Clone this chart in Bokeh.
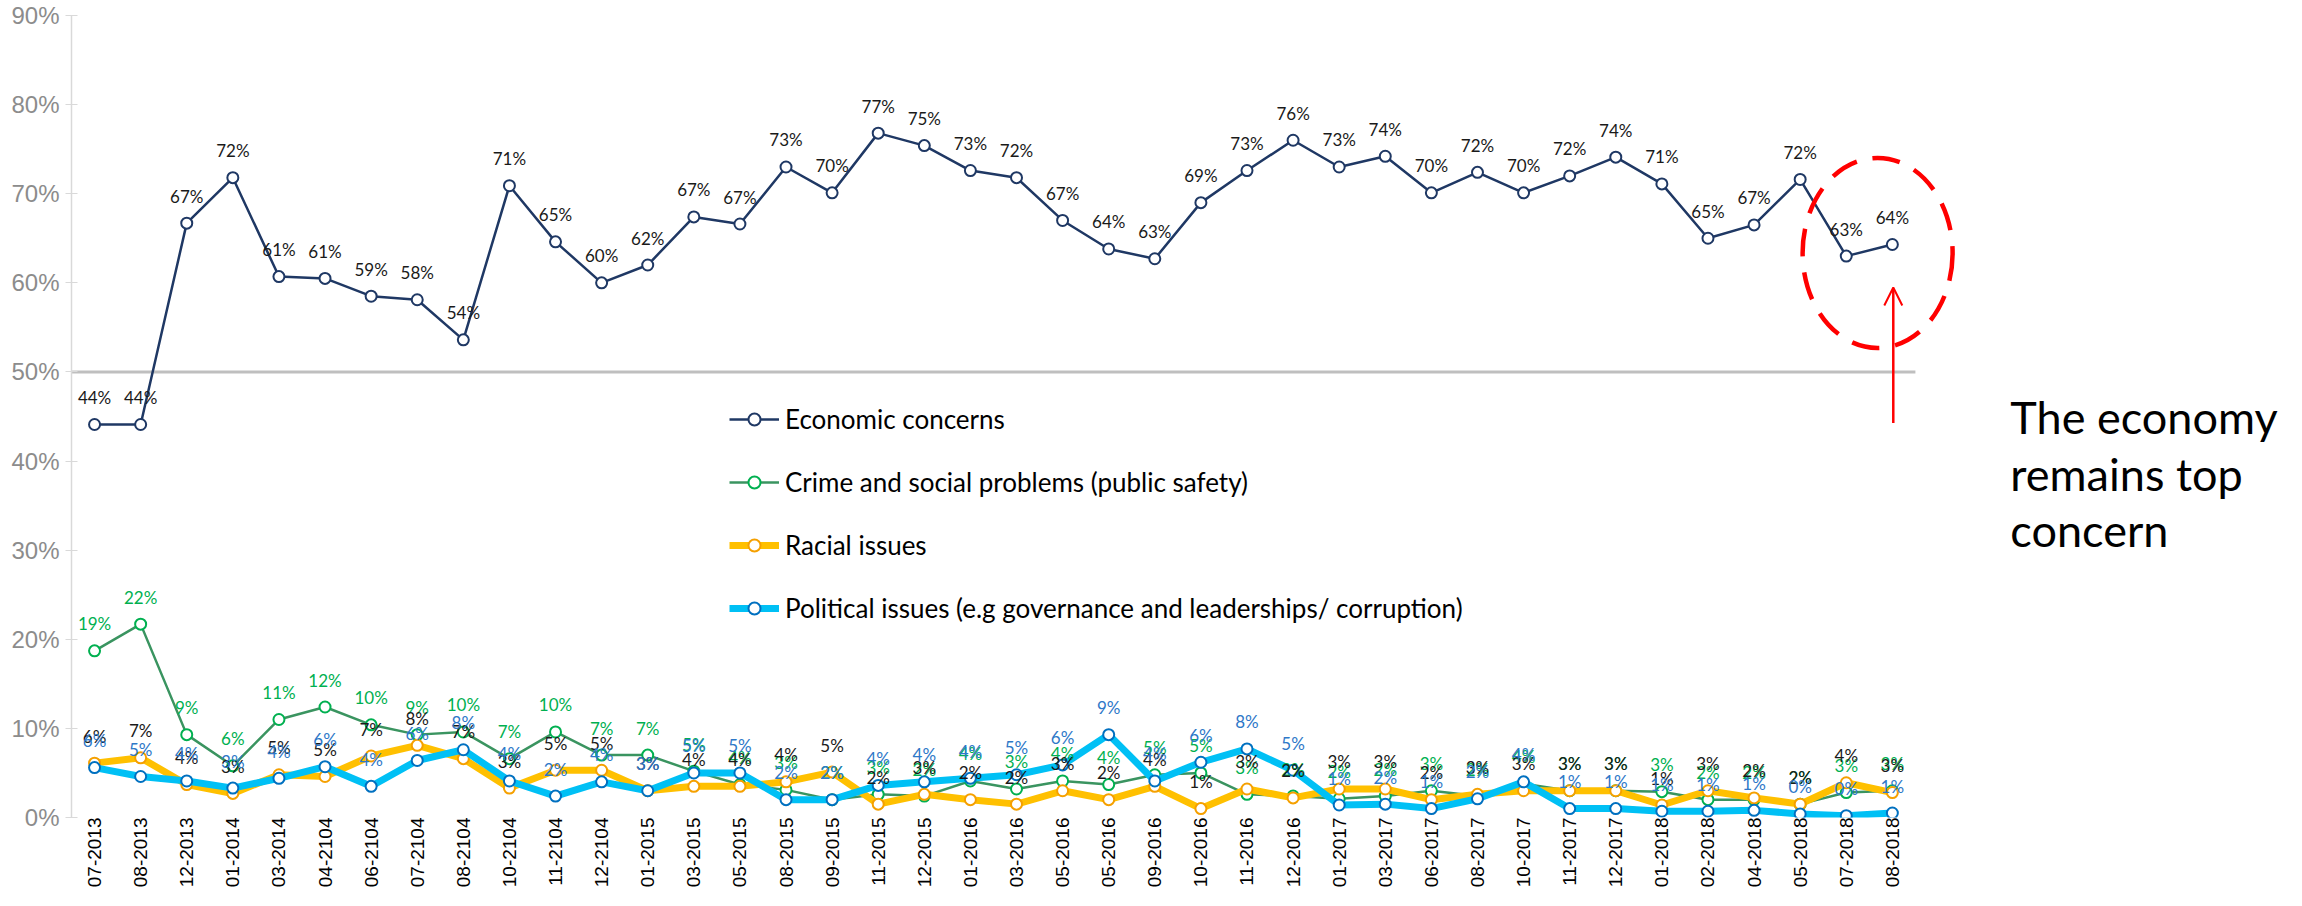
import math
from bokeh.plotting import figure
from bokeh.models import (ColumnDataSource, Range1d, Legend, LegendItem, Arrow,
                          OpenHead, FixedTicker, PrintfTickFormatter)
from bokeh.core.properties import value
from bokeh.embed import file_html
from bokeh.resources import INLINE

months = ["07-2013", "08-2013", "12-2013", "01-2014", "03-2014", "04-2104", "06-2104",
          "07-2104", "08-2104", "10-2104", "11-2104", "12-2104", "01-2015", "03-2015",
          "05-2015", "08-2015", "09-2015", "11-2015", "12-2015", "01-2016", "03-2016",
          "05-2016", "05-2016", "09-2016", "10-2016", "11-2016", "12-2016", "01-2017",
          "03-2017", "06-2017", "08-2017", "10-2017", "11-2017", "12-2017", "01-2018",
          "02-2018", "04-2018", "05-2018", "07-2018", "08-2018"]

economic = [44.1, 44.1, 66.7, 71.8, 60.7, 60.5, 58.5, 58.1, 53.6, 70.9, 64.6, 60.0,
            62.0, 67.4, 66.6, 73.0, 70.1, 76.8, 75.4, 72.6, 71.8, 67.0, 63.8, 62.7,
            69.0, 72.6, 76.0, 73.0, 74.2, 70.1, 72.4, 70.1, 72.0, 74.1, 71.1, 65.0,
            66.5, 71.6, 63.0, 64.3]

crime = [18.7, 21.7, 9.3, 5.8, 11.0, 12.4, 10.4, 9.3, 9.6, 6.6, 9.6, 7.0, 7.0, 5.2,
         3.7, 3.1, 2.0, 2.6, 2.4, 4.1, 3.2, 4.1, 3.7, 4.8, 5.0, 2.6, 2.4, 2.1, 2.4,
         3.0, 2.4, 3.8, 3.0, 3.0, 2.9, 2.0, 2.0, 1.5, 2.8, 3.0]

racial = [6.1, 6.7, 3.7, 2.7, 4.8, 4.6, 6.9, 8.1, 6.6, 3.3, 5.3, 5.3, 3.0, 3.5, 3.5,
          4.0, 5.1, 1.5, 2.6, 2.0, 1.5, 3.0, 2.0, 3.5, 1.0, 3.2, 2.2, 3.2, 3.2, 2.0,
          2.6, 3.0, 3.0, 3.0, 1.4, 3.0, 2.2, 1.5, 3.9, 2.8]

political = [5.6, 4.6, 4.1, 3.3, 4.4, 5.7, 3.5, 6.4, 7.6, 4.1, 2.4, 4.0, 3.0, 5.0, 5.0,
             2.0, 2.0, 3.6, 4.0, 4.4, 4.8, 5.9, 9.3, 4.1, 6.2, 7.7, 5.3, 1.4, 1.5, 1.0,
             2.1, 4.0, 1.0, 1.0, 0.7, 0.7, 0.8, 0.4, 0.2, 0.5]

y_ticks = [0, 10, 20, 30, 40, 50, 60, 70, 80, 90]
note_lines = ["The economy", "remains top", "concern"]

x = list(range(len(months)))


def lab(v):
    return f"{int(v + 0.5)}%"


p = figure(width=2286, height=890, x_range=Range1d(-0.5, 47.55), y_range=Range1d(0, 90),
           output_backend="svg", toolbar_location=None,
           min_border_left=71, min_border_right=0, min_border_top=15, min_border_bottom=70)
p.outline_line_color = None
p.xgrid.visible = False
p.ygrid.visible = False

# axes
p.yaxis.ticker = FixedTicker(ticks=y_ticks)
p.yaxis.formatter = PrintfTickFormatter(format="%d%%")
p.yaxis.axis_line_color = "#D9D9D9"
p.yaxis.axis_line_width = 1.5
p.yaxis.major_tick_line_color = "#D9D9D9"
p.yaxis.major_tick_in = 6
p.yaxis.major_tick_out = 6
p.yaxis.minor_tick_line_color = None
p.yaxis.major_label_text_font = "Liberation Sans"
p.yaxis.major_label_text_font_size = "24px"
p.yaxis.major_label_text_color = "#8C8C8C"
p.yaxis.major_label_standoff = 6

p.xaxis.ticker = FixedTicker(ticks=x)
p.xaxis.major_label_overrides = {i: m for i, m in enumerate(months)}
p.xaxis.major_label_orientation = math.pi / 2
p.xaxis.axis_line_color = None
p.xaxis.major_tick_line_color = None
p.xaxis.minor_tick_line_color = None
p.xaxis.major_tick_in = 0
p.xaxis.major_tick_out = 0
p.xaxis.major_label_standoff = 0
p.xaxis.major_label_text_font = "Liberation Sans"
p.xaxis.major_label_text_font_size = "19px"
p.xaxis.major_label_text_color = "black"

# 50% reference line
p.segment(x0=-0.5, y0=50, x1=39.5, y1=50, line_color="#BFBFBF", line_width=3)

series = [
    ("Economic concerns", economic, "#1F3864", 2.5, "#1F3864", "#1A1A1A"),
    ("Crime and social problems (public safety)", crime, "#3A9460", 2.5, "#00B050", "#00B050"),
    ("Racial issues", racial, "#FFC000", 7, "#F5A000", "#1A1A1A"),
    ("Political issues (e.g governance and leaderships/ corruption)", political, "#00C0F5", 7, "#0070C0", "#2E78C8"),
]

items = []
label_sources = []
for name, vals, lc, lw, mc, tc in series:
    src = ColumnDataSource(dict(x=x, y=vals, t=[lab(v) for v in vals]))
    lr = p.line("x", "y", source=src, line_color=lc, line_width=lw)
    sr = p.scatter("x", "y", source=src, marker="circle", size=11, fill_color="white",
                   line_color=mc, line_width=2)
    items.append(LegendItem(label=name, renderers=[lr, sr]))
    label_sources.append((src, tc))

for src, tc in label_sources:
    p.text("x", "y", text="t", source=src, y_offset=-27, text_align="center",
           text_baseline="middle", text_font=value("Lato"), text_font_size="17px",
           text_color=tc)

# red dashed ellipse + arrow
p.ellipse(x=38.68, y=63.35, width=150, height=190, width_units="screen",
          height_units="screen", fill_color=None, line_color="#FF0000", line_width=4.5,
          line_dash="28 16")
p.add_layout(Arrow(end=OpenHead(size=18, line_color="#FF0000", line_width=2),
                   x_start=39.02, y_start=44.28, x_end=39.02, y_end=59.48,
                   line_color="#FF0000", line_width=2.5))

p.text(x=[41.56] * 3, y=[44.95, 38.58, 32.21], text=note_lines, text_align="left",
       text_baseline="alphabetic", text_font=value("Lato"), text_font_size="45px",
       text_color="black")

legend = Legend(items=items, location=(658, 193), orientation="vertical",
                label_text_font="Lato", label_text_font_size="26px",
                label_text_color="black", glyph_width=50, glyph_height=30,
                label_height=30, spacing=31, padding=0, margin=0,
                border_line_alpha=0, background_fill_alpha=0, label_standoff=6)
p.add_layout(legend)

open("out.html", "w").write(file_html(p, INLINE))
